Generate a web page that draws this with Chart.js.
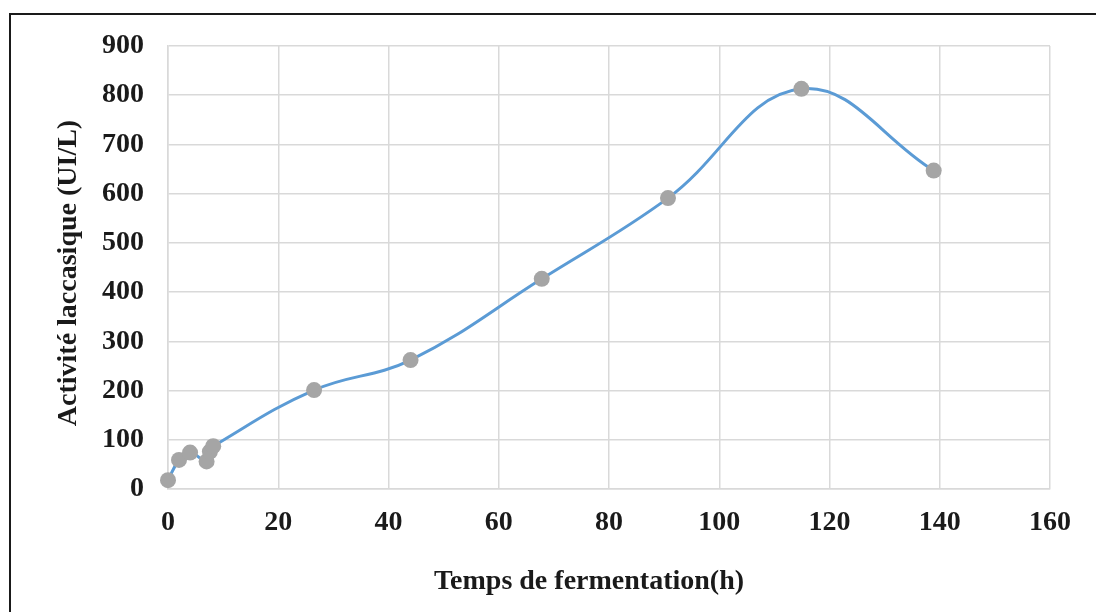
<!DOCTYPE html>
<html>
<head>
<meta charset="utf-8">
<script src="https://cdn.jsdelivr.net/npm/chart.js@4/dist/chart.umd.min.js"></script>
<style>
  html, body { margin: 0; padding: 0; background: #fff; overflow: hidden; }
  #wrap { position: relative; width: 1096px; height: 612px; }
  #frame {
    position: absolute; left: 9px; top: 13px; width: 1200px; height: 700px;
    border-left: 2px solid #1a1a1a; border-top: 2px solid #1a1a1a;
  }
  canvas { position: absolute; left: 0; top: 0; }
</style>
</head>
<body>
<div id="wrap">
  <div id="frame"></div>
  <canvas id="chart" width="1096" height="612"></canvas>
</div>
<script>
const hours = [0, 2, 4, 7, 7.6, 8.2, 26.5, 44, 67.8, 90.7, 114.9, 138.9]
const activity = [18, 59, 74, 56, 76, 87, 201, 262, 427, 591, 813, 647]

const xTitle = 'Temps de fermentation(h)'
const yTitle = 'Activité laccasique (UI/L)'

const font = { family: '"Liberation Serif", "Times New Roman", serif', size: 28, weight: 'bold' }
const gridColor = '#d9d9d9'

// axis titles are placed by hand so they sit where the layout wants them
const axisTitles = {
  id: 'axisTitles',
  afterDraw (chart) {
    const { ctx } = chart
    ctx.save()
    ctx.fillStyle = '#1a1a1a'
    ctx.font = `bold ${font.size}px ${font.family}`
    ctx.textAlign = 'center'
    ctx.textBaseline = 'middle'
    ctx.fillText(xTitle, 589, 582)
    ctx.translate(69, 273)
    ctx.rotate(-Math.PI / 2)
    ctx.fillText(yTitle, 0, 0)
    ctx.restore()
  }
}

new Chart(document.getElementById('chart'), {
  type: 'line',
  data: {
    datasets: [{
      data: hours.map((h, i) => ({ x: h, y: activity[i] })),
      borderColor: '#5b9bd5',
      borderWidth: 3,
      tension: 0.4,
      pointRadius: 8,
      pointBackgroundColor: '#a5a5a5',
      pointBorderColor: '#a5a5a5',
      pointBorderWidth: 0,
      fill: false,
      clip: false
    }]
  },
  options: {
    responsive: false,
    animation: false,
    layout: {
      padding: { left: 0, top: 46, right: 46, bottom: 0 }
    },
    plugins: {
      legend: { display: false },
      tooltip: { enabled: false }
    },
    scales: {
      x: {
        type: 'linear',
        min: 0,
        max: 160,
        ticks: {
          stepSize: 20,
          padding: 17,
          color: '#1a1a1a',
          font,
          maxRotation: 0
        },
        grid: { color: gridColor, lineWidth: 1.5, drawTicks: false },
        border: { color: gridColor, width: 1.5 },
        afterFit (scale) { scale.height = 123 }
      },
      y: {
        min: 0,
        max: 900,
        ticks: {
          stepSize: 100,
          padding: 24,
          color: '#1a1a1a',
          font
        },
        grid: { color: gridColor, lineWidth: 1.5, drawTicks: false },
        border: { color: gridColor, width: 1.5 },
        afterFit (scale) { scale.width = 168 }
      }
    }
  },
  plugins: [axisTitles]
})
</script>
</body>
</html>
